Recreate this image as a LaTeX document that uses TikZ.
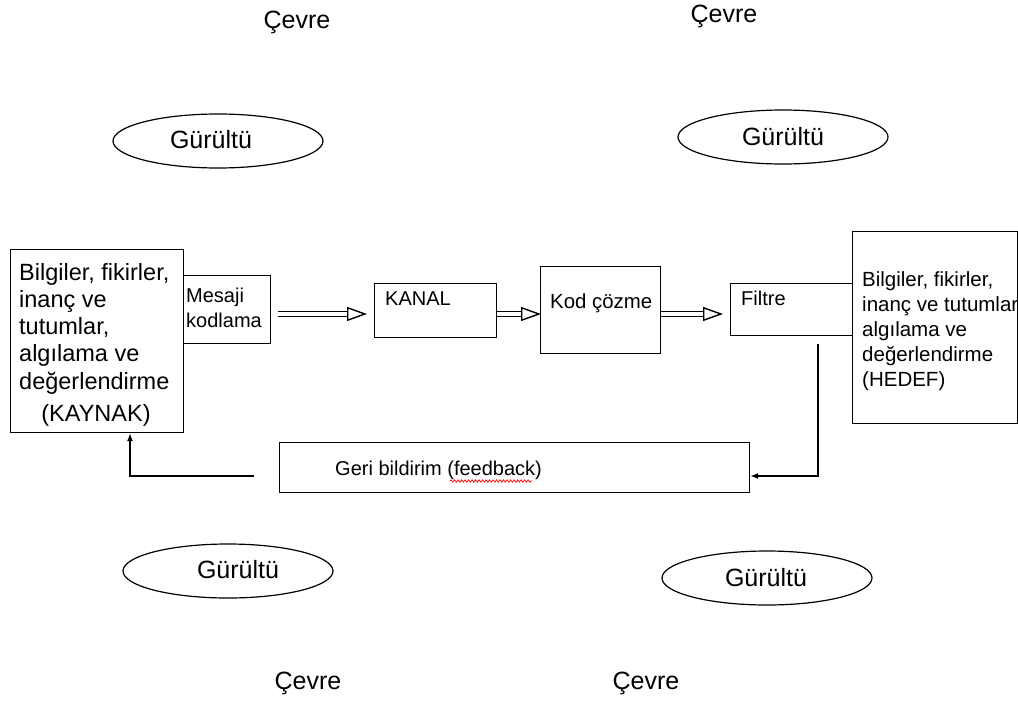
\documentclass[tikz,border=0pt]{standalone}
\usepackage{fontspec}
\setmainfont{Liberation Sans}
\usetikzlibrary{arrows.meta,decorations.pathmorphing,calc,shapes.geometric}
\begin{document}
\begin{tikzpicture}[x=1pt,y=-1pt,
  box/.style={draw,line width=1.2pt,inner sep=0pt,anchor=north west},
  noise/.style={draw,line width=1.2pt,ellipse,minimum width=210pt,minimum height=54pt},
  env/.style={font=\fontsize{25}{30}\selectfont},
  txt/.style={inner sep=0pt,anchor=north west,align=left},
  dblarrow/.style={line width=1.4pt,double=white,double distance=3.6pt,-{Triangle[open,length=20pt,width=14pt,line width=1.4pt]}},
  fb/.style={line width=1.2pt,-{Latex[length=8pt,width=6pt]}}]
\useasboundingbox (0,0) rectangle (1018,702);
% environment labels
\node[env] (c1) at (297,22) {Çevre};
\node[env] (c2) at (724,16) {Çevre};
\node[env] (c3) at (308,683) {Çevre};
\node[env] (c4) at (646,683) {Çevre};
% noise ellipses
\node[noise] (g1) at (218,141) {};
\node[noise] (g2) at (783,137) {};
\node[noise] (g3) at (228,571) {};
\node[noise] (g4) at (767,578) {};
\node[env] (g1t) at (211,140) {Gürültü};
\node[env] (g2t) at (783,137) {Gürültü};
\node[env] (g3t) at (238,570) {Gürültü};
\node[env] (g4t) at (766,578) {Gürültü};
% boxes
\node[box,minimum width=173pt,minimum height=183pt] (kaynak) at (10,249) {};
\node[box,minimum width=87pt,minimum height=68pt] (mesaj) at (183,275) {};
\node[box,minimum width=122pt,minimum height=54pt] (kanal) at (374,283) {};
\node[box,minimum width=120pt,minimum height=87pt] (kod) at (540,266) {};
\node[box,minimum width=122pt,minimum height=52pt] (filtre) at (730,283) {};
\node[box,minimum width=165pt,minimum height=192pt] (hedef) at (852,231) {};
\node[box,minimum width=470pt,minimum height=50pt] (geri) at (279,442) {};
% texts
\node[txt,font=\fontsize{23.5}{27.2}\selectfont] (kaynaktxt) at (19,263) {Bilgiler, fikirler,\\inanç ve\\tutumlar,\\algılama ve\\değerlendirme};
\node[font=\fontsize{23.5}{27}\selectfont,inner sep=0pt] (kaynaklbl) at (96,415) {(KAYNAK)};
\node[txt,font=\fontsize{20}{25}\selectfont] (mesajtxt) at (186,288) {Mesaji\\kodlama};
\node[txt,font=\fontsize{20}{24}\selectfont] (kanaltxt) at (385,292) {KANAL};
\node[txt,font=\fontsize{20.4}{24}\selectfont] (kodtxt) at (550,294) {Kod çözme};
\node[txt,font=\fontsize{20}{24}\selectfont] (filtretxt) at (741,291) {Filtre};
\node[txt,font=\fontsize{20.5}{25}\selectfont] (hedeftxt) at (862,271) {Bilgiler, fikirler,\\inanç ve tutumlar\\algılama ve\\değerlendirme\\(HEDEF)};
\node[txt,font=\fontsize{20}{24}\selectfont] (geritxt) at (335,461) {Geri bildirim (feedback)};
\draw[red,line width=0.7pt,decorate,decoration={snake,amplitude=1.2pt,segment length=3.5pt}] (450,481) -- (532,481);
% channel arrows
\coordinate (a1s) at (278,314);
\coordinate (a1e) at (367,314);
\coordinate (a2e) at (541,314);
\coordinate (a3e) at (723,314);
\draw[dblarrow] (a1s) -- (a1e);
\draw[dblarrow] (kanal.east |- a1s) -- (a2e);
\draw[dblarrow] (kod.east |- a1s) -- (a3e);
% feedback lines
\coordinate (f1) at (818,344);
\coordinate (f2) at (818,476);
\draw[fb] (f1) -- (f2) -- (geri.east |- f2);
\coordinate (b1) at (254,476);
\coordinate (b2) at (130,476);
\draw[fb] (b1) -- (b2) -- (b2 |- kaynak.south);
\end{tikzpicture}
\end{document}
